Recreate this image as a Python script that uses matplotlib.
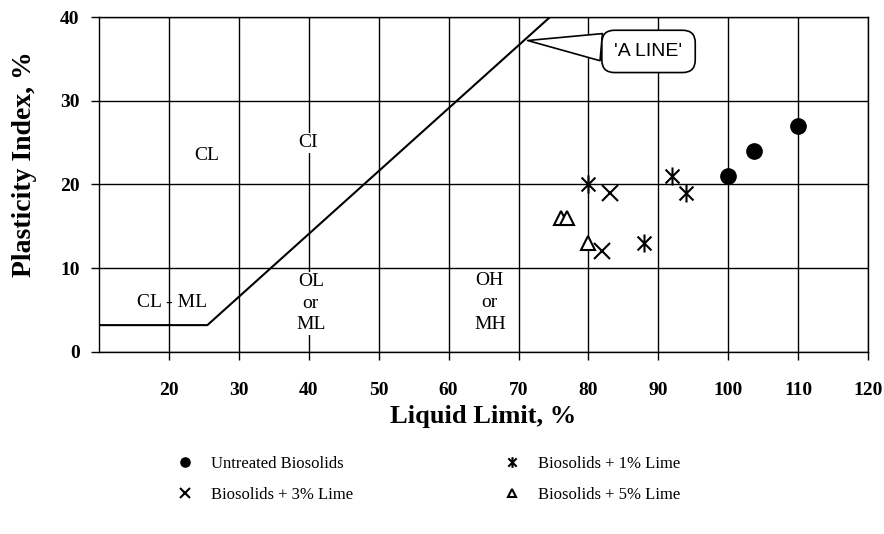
import matplotlib
matplotlib.use("Agg")
import matplotlib.pyplot as plt
from matplotlib.path import Path

# data
untreated_ll = [100, 103.7, 110]
untreated_pi = [21, 24, 27]
lime1_ll = [80, 91.9, 94, 87.9]
lime1_pi = [20, 21, 19, 13]
lime3_ll = [83.1, 82]
lime3_pi = [19, 12]
lime5_ll = [76.1, 76.9, 80]
lime5_pi = [16, 16, 13]

aline_ll = [10, 25.5, 74.5]
aline_pi = [3.2, 3.2, 40]

x_ticks = [20, 30, 40, 50, 60, 70, 80, 90, 100, 110, 120]
y_ticks = [0, 10, 20, 30, 40]

serif = ['Liberation Serif', 'DejaVu Serif']

# asterisk marker (x with a vertical bar)
star = Path([(-1, -1), (1, 1), (-1, 1), (1, -1), (0, -1.3), (0, 1.3)],
            [Path.MOVETO, Path.LINETO, Path.MOVETO, Path.LINETO, Path.MOVETO, Path.LINETO])

fig = plt.figure(figsize=(8.84, 5.34), dpi=100)
ax = fig.add_axes([0.112, 0.341, 0.870, 0.627])

ax.set_xlim(10, 120)
ax.set_ylim(0, 40)
ax.set_xticks(x_ticks)
ax.set_yticks(y_ticks)
ax.grid(True, color='black', linewidth=1.0)
ax.set_axisbelow(True)
for s in ax.spines.values():
    s.set_color('black')
    s.set_linewidth(1.0)
ax.tick_params(direction='out', length=6, width=1, color='black')
ax.tick_params(axis='x', pad=16)
ax.tick_params(axis='y', pad=8)
for lab in ax.get_xticklabels() + ax.get_yticklabels():
    lab.set_family(serif)
    lab.set_fontweight('bold')
    lab.set_fontsize(14)

ax.plot(aline_ll, aline_pi, color='black', linewidth=1.5, zorder=3)

h1, = ax.plot(untreated_ll, untreated_pi, 'o', color='black', markersize=11,
              linestyle='none', zorder=4, label='Untreated Biosolids')
h2, = ax.plot(lime1_ll, lime1_pi, marker=star, color='black', markersize=13,
              markeredgewidth=1.5, linestyle='none', zorder=4, label='Biosolids + 1% Lime')
h3, = ax.plot(lime3_ll, lime3_pi, 'x', color='black', markersize=11,
              markeredgewidth=1.5, linestyle='none', zorder=4, label='Biosolids + 3% Lime')
h4, = ax.plot(lime5_ll, lime5_pi, '^', markerfacecolor='white', markeredgecolor='black',
              markersize=10, markeredgewidth=1.5, linestyle='none', zorder=4,
              label='Biosolids + 5% Lime')

box = dict(facecolor='white', edgecolor='none', pad=1)
txt = dict(family=serif, fontsize=14, ha='center', va='center', zorder=5)
ax.text(25.4, 23.5, 'CL', bbox=box, **txt)
ax.text(39.9, 25, 'CI', bbox=box, **txt)
ax.text(20.4, 5.9, 'CL - ML', **txt)
ax.text(40.3, 5.8, 'OL\nor\nML', bbox=box, linespacing=1.35, **txt)
ax.text(65.9, 5.9, 'OH\nor\nMH', bbox=box, linespacing=1.35, **txt)

ax.annotate("'A LINE'", xy=(71.3, 37.2), xytext=(88.6, 35.9),
            fontsize=14, family=['Liberation Sans', 'DejaVu Sans'],
            ha='center', va='center', zorder=6,
            bbox=dict(boxstyle='round,pad=0.65', facecolor='white', edgecolor='black', linewidth=1.2),
            arrowprops=dict(arrowstyle='wedge,tail_width=1.4', facecolor='white',
                            edgecolor='black', linewidth=1.2, shrinkA=0, shrinkB=0))

ax.set_xlabel('Liquid Limit, %', family=serif, fontweight='bold', fontsize=19, labelpad=4)
ax.set_ylabel('Plasticity Index, %', family=serif, fontweight='bold', fontsize=20)
ax.yaxis.set_label_coords(-0.08, 0.56)

leg = fig.legend(handles=[h1, h3, h2, h4], ncol=2, loc='upper center',
                 bbox_to_anchor=(0.48, 0.175), frameon=False, columnspacing=8.5,
                 handletextpad=0.6, labelspacing=0.9, markerscale=0.6,
                 prop={'family': serif, 'size': 12})

fig.savefig('out.png', dpi=100, facecolor='white')
